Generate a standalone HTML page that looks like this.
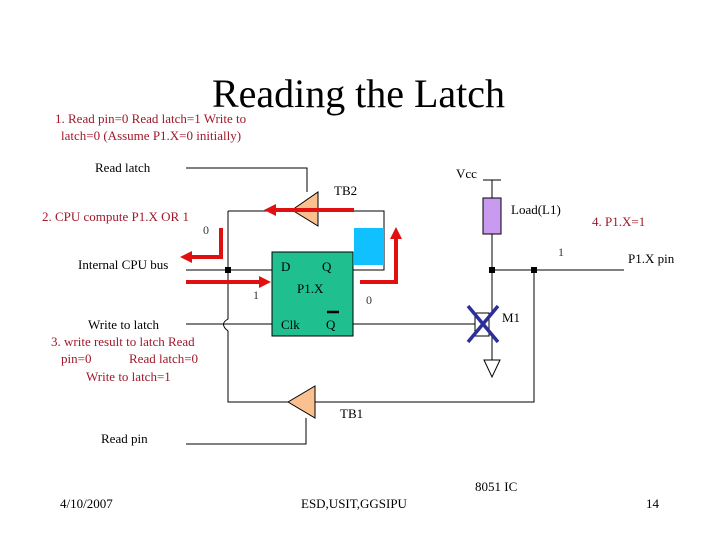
<!DOCTYPE html>
<html><head><style>
html,body{margin:0;padding:0;background:#fff;width:720px;height:540px;overflow:hidden}
svg text{font-family:"Liberation Serif",serif}
</style></head><body>
<svg width="720" height="540" viewBox="0 0 720 540" xmlns="http://www.w3.org/2000/svg">
<text x="212" y="107" font-size="40" textLength="293">Reading the Latch</text>
<g fill="#a0182a" font-size="13">
<text x="55" y="123">1. Read pin=0 Read latch=1 Write to</text>
<text x="61" y="140">latch=0 (Assume P1.X=0 initially)</text>
<text x="42" y="221">2. CPU compute P1.X  OR 1</text>
<text x="51" y="346">3. write result to latch   Read</text>
<text x="61" y="363">pin=0</text>
<text x="129" y="363">Read latch=0</text>
<text x="86" y="381">Write to latch=1</text>
<text x="592" y="226">4. P1.X=1</text>
</g>
<g font-size="13" fill="#000">
<text x="95" y="172">Read latch</text>
<text x="78" y="269">Internal CPU bus</text>
<text x="88" y="329">Write to latch</text>
<text x="101" y="443">Read pin</text>
<text x="456" y="178">Vcc</text>
<text x="334" y="195">TB2</text>
<text x="511" y="214">Load(L1)</text>
<text x="628" y="263">P1.X pin</text>
<text x="502" y="322">M1</text>
<text x="340" y="418">TB1</text>
<text x="475" y="491">8051 IC</text>
<text x="60" y="508">4/10/2007</text>
<text x="301" y="508">ESD,USIT,GGSIPU</text>
<text x="646" y="508">14</text>
</g>
<g fill="#334" font-size="12">
<text x="203" y="234">0</text>
<text x="253" y="299">1</text>
<text x="366" y="304">0</text>
<text x="558" y="256">1</text>
</g>
<g stroke="#000" stroke-width="1" fill="none">
<polyline points="186,168 307,168 307,192"/>
<polyline points="228,211 384,211 384,270 353,270"/>
<line x1="186" y1="270" x2="272" y2="270"/>
<path d="M228,211 V319 Q219,324 228,331 V402 H288"/>
<line x1="186" y1="324" x2="272" y2="324"/>
<line x1="353" y1="324" x2="475" y2="324"/>
<polyline points="483,180 501,180"/>
<line x1="492" y1="180" x2="492" y2="198"/>
<line x1="492" y1="234" x2="492" y2="313"/>
<line x1="492" y1="336" x2="492" y2="360"/>
<line x1="492" y1="270" x2="624" y2="270"/>
<polyline points="534,270 534,402 315,402"/>
<polyline points="186,444 306,444 306,418"/>
<rect x="475" y="313" width="14" height="23" fill="#fff"/>
<polygon points="484,360 500,360 492,377" fill="#fff"/>
</g>
<polygon points="292,210 318,192 318,226" fill="#fbc08f" stroke="#000"/>
<polygon points="288,402 315,386 315,418" fill="#fbc08f" stroke="#000"/>
<rect x="272" y="252" width="81" height="84" fill="#1fbf8f" stroke="#000"/>
<line x1="327" y1="312" x2="339" y2="312" stroke="#000" stroke-width="2.5"/>
<g font-size="13" fill="#000">
<text x="281" y="271">D</text>
<text x="322" y="271">Q</text>
<text x="297" y="293">P1.X</text>
<text x="281" y="329">Clk</text>
<text x="326" y="329">Q</text>
</g>
<rect x="354" y="228" width="30" height="37" fill="#10c0ff"/>
<rect x="483" y="198" width="18" height="36" fill="#c89af0" stroke="#000"/>
<g fill="#000">
<rect x="225" y="267" width="6" height="6"/>
<rect x="489" y="267" width="6" height="6"/>
<rect x="531" y="267" width="6" height="6"/>
</g>
<g stroke="#2c2f9a" stroke-width="3.5">
<line x1="468" y1="306" x2="498" y2="342"/>
<line x1="498" y1="306" x2="468" y2="342"/>
</g>
<g stroke="#e01010" stroke-width="4" fill="none">
<line x1="354" y1="210" x2="272" y2="210"/>
<polyline points="221,228 221,257 188,257"/>
<line x1="186" y1="282" x2="262" y2="282"/>
<polyline points="360,282 396,282 396,236"/>
</g>
<g fill="#e01010">
<polygon points="264,210 276,204 276,216"/>
<polygon points="180,257 192,251 192,263"/>
<polygon points="271,282 259,276 259,288"/>
<polygon points="396,227 390,239 402,239"/>
</g>
</svg>
</body></html>
